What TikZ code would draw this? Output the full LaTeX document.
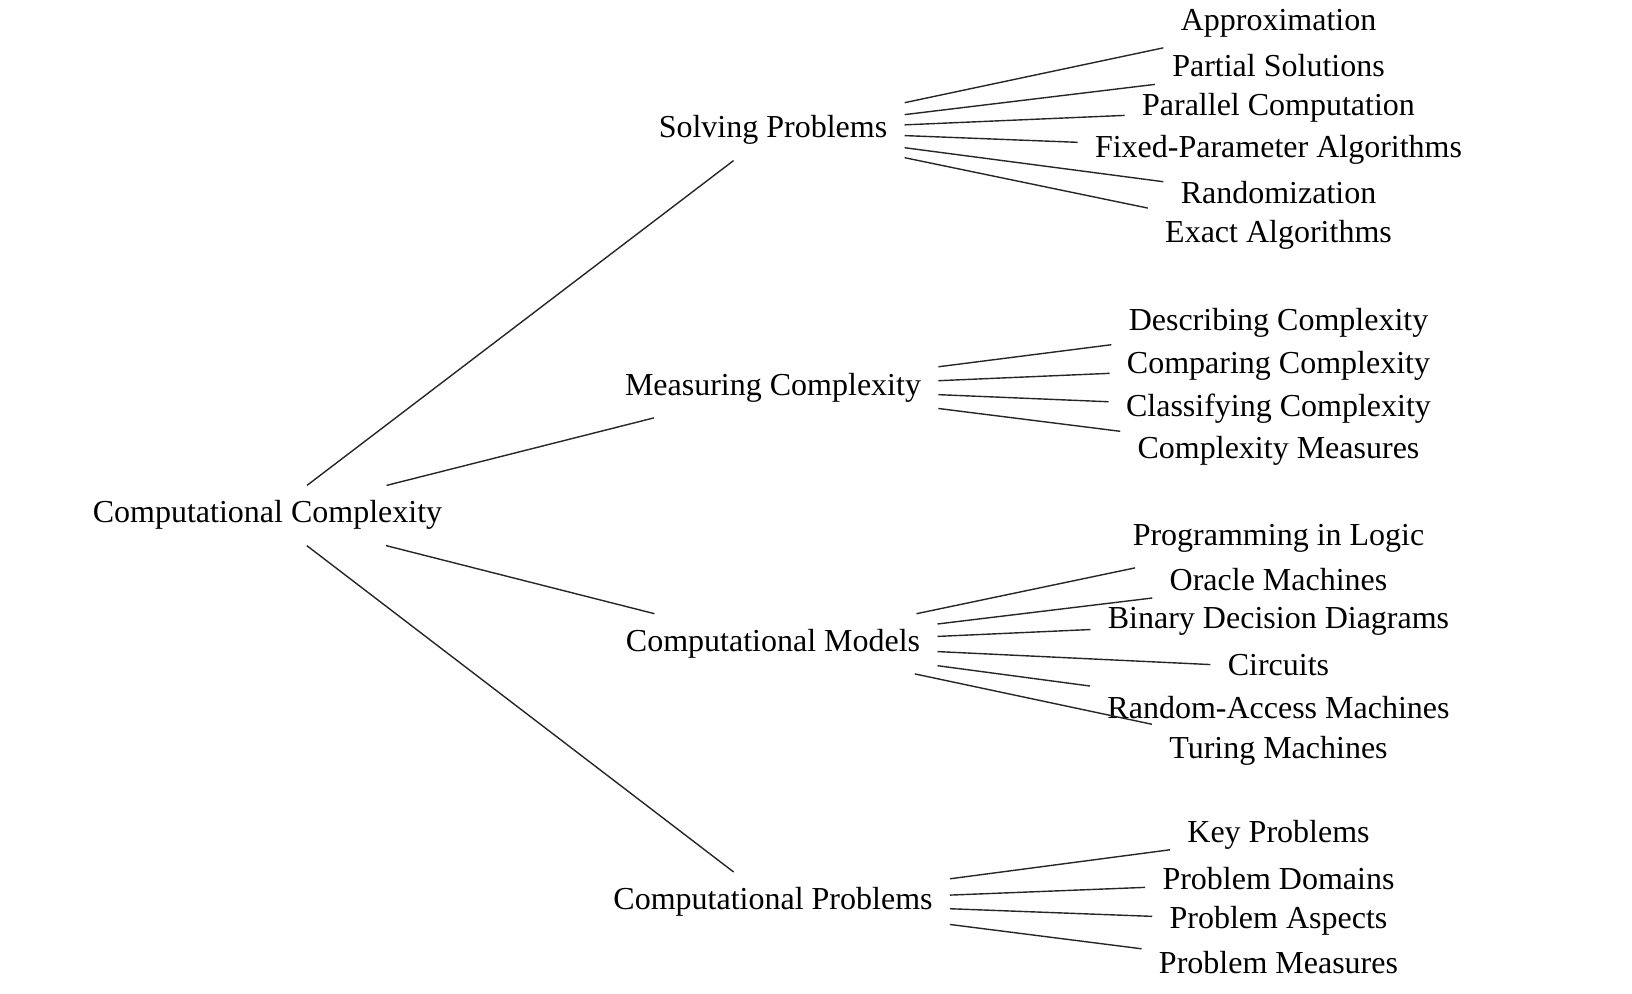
\documentclass[tikz,border=0pt]{standalone}
\usepackage{fontspec}
\setmainfont{Liberation Serif}
\begin{document}
\begin{tikzpicture}[x=0.5pt,y=-0.5pt,
  lbl/.style={rectangle, inner xsep=8.5pt, inner ysep=0pt, minimum height=29.7pt,
    text height=11.2pt, text depth=4pt, anchor=base, font=\fontsize{16}{19}\selectfont},
  link/.style={draw=black!85, line width=0.7pt}]
\useasboundingbox (0,0) rectangle (1632,994);
% root
\node[lbl] (cc) at (267.5,522.7) {Computational Complexity};
% level 1
\node[lbl] (sp) at (773,137.7) {Solving Problems};
\node[lbl] (mc) at (773,395) {Measuring Complexity};
\node[lbl] (cm) at (773,651) {Computational Models};
\node[lbl] (cp) at (773,909.3) {Computational Problems};
% solving problems children
\node[lbl] (s1) at (1278.5,30.7) {Approximation};
\node[lbl] (s2) at (1278.5,76.7) {Partial Solutions};
\node[lbl] (s3) at (1278.5,116) {Parallel Computation};
\node[lbl] (s4) at (1278.5,157.3) {Fixed-Parameter Algorithms};
\node[lbl] (s5) at (1278.5,204) {Randomization};
\node[lbl] (s6) at (1278.5,242.3) {Exact Algorithms};
% measuring complexity children
\node[lbl] (m1) at (1278.5,330.7) {Describing Complexity};
\node[lbl] (m2) at (1278.5,373.3) {Comparing Complexity};
\node[lbl] (m3) at (1278.5,416) {Classifying Complexity};
\node[lbl] (m4) at (1278.5,458.3) {Complexity Measures};
% computational models children
\node[lbl] (c1) at (1278.5,545) {Programming in Logic};
\node[lbl] (c2) at (1278.5,590) {Oracle Machines};
\node[lbl] (c3) at (1278.5,628.3) {Binary Decision Diagrams};
\node[lbl] (c4) at (1278.5,675) {Circuits};
\node[lbl] (c5) at (1278.5,718.3) {Random-Access Machines};
\node[lbl] (c6) at (1278.5,758.3) {Turing Machines};
% computational problems children
\node[lbl] (p1) at (1278.5,842.7) {Key Problems};
\node[lbl] (p2) at (1278.5,889.3) {Problem Domains};
\node[lbl] (p3) at (1278.5,928.3) {Problem Aspects};
\node[lbl] (p4) at (1278.5,973.3) {Problem Measures};
% edges
\foreach \t in {sp,mc,cm,cp} \draw[link] (cc) -- (\t);
\foreach \t in {s1,s2,s3,s4,s5,s6} \draw[link] (sp) -- (\t);
\foreach \t in {m1,m2,m3,m4} \draw[link] (mc) -- (\t);
\foreach \t in {c1,c2,c3,c4,c5,c6} \draw[link] (cm) -- (\t);
\foreach \t in {p1,p2,p3,p4} \draw[link] (cp) -- (\t);
\end{tikzpicture}
\end{document}
